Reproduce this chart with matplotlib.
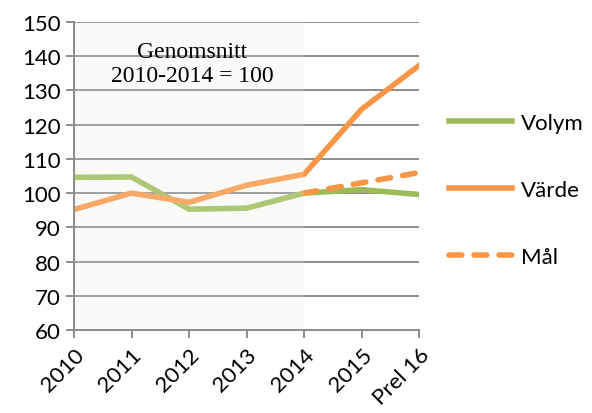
import matplotlib.pyplot as plt

# ------------------ Data ------------------
years = ["2010", "2011", "2012", "2013", "2014", "2015", "Prel 16"]
volym = [104.6, 104.7, 95.3, 95.6, 100.0, 101.0, 99.6]
varde = [95.2, 100.0, 97.3, 102.3, 105.5, 124.5, 137.3]
mal_years = ["2014", "2015", "Prel 16"]
mal = [100.0, 103.0, 106.0]
yticks = list(range(60, 151, 10))

green = "#9bbb59"
orange = "#f79646"
grid_col = "#8c8c8c"

plt.rcParams['font.family'] = ['Lato', 'DejaVu Sans']

fig = plt.figure(figsize=(5.92, 4.14), dpi=100)
ax = fig.add_axes([0.125, 0.2005, 0.583, 0.744])

x = list(range(len(years)))
mal_x = [years.index(y) for y in mal_years]

# shaded base period 2010-2014
ax.axvspan(0, years.index("2014"), color="#f9f9f7", zorder=0, lw=0)
ax.axvspan(0, years.index("2014"), color="white", alpha=0.18, zorder=2.5, lw=0)

for v in yticks:
    ax.axhline(v, color=grid_col, lw=1.4, zorder=1)

ax.plot(x, volym, color=green, lw=4, label="Volym", zorder=2, solid_joinstyle="miter")
ax.plot(x, varde, color=orange, lw=4, label="Värde", zorder=2, solid_joinstyle="miter")
ax.plot(mal_x, mal, color=orange, lw=4, ls=(0, (2.3, 2.2)), label="Mål", zorder=2,
        dash_capstyle="round")

ax.set_xlim(0, len(years) - 1)
ax.set_ylim(60, 150)
ax.set_yticks(yticks)
ax.set_xticks(x)
ax.set_xticklabels(years, rotation=45, ha="right", va="top", rotation_mode="anchor")
ax.tick_params(axis="both", labelsize=16, color=grid_col, width=1.4, length=6)
ax.tick_params(axis="x", pad=4)

for s in ["top", "right"]:
    ax.spines[s].set_visible(False)
for s in ["left", "bottom"]:
    ax.spines[s].set_color(grid_col)
    ax.spines[s].set_linewidth(1.4)

ax.text(2.05, 137.8, "Genomsnitt\n2010-2014 = 100", ha="center", va="center",
        fontsize=17, family="Liberation Serif", linespacing=1.2)

ax.legend(loc="center left", bbox_to_anchor=(1.03, 0.455), frameon=False,
          fontsize=16, handlelength=2.8, labelspacing=2.1, handletextpad=0.4)

plt.savefig("out.png", dpi=100)
